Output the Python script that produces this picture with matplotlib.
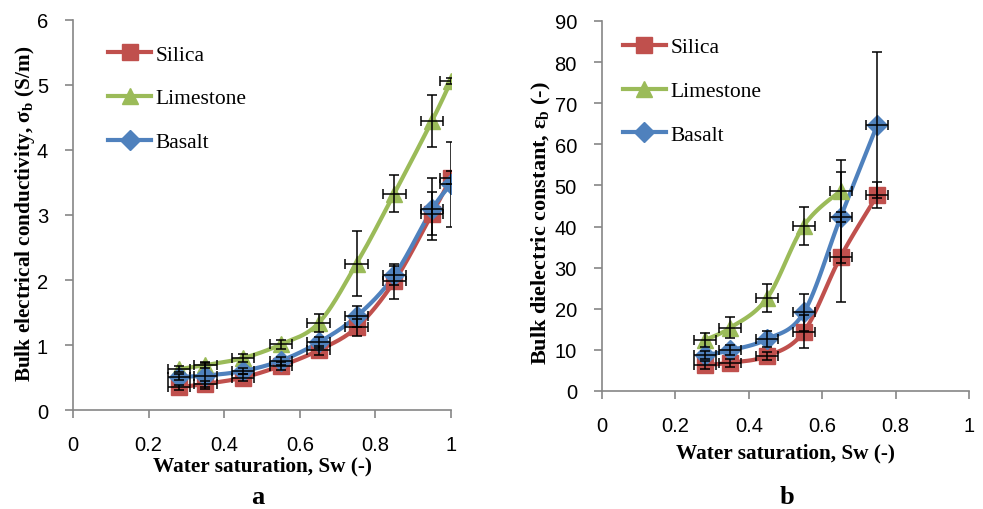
import numpy as np
import matplotlib
matplotlib.use('Agg')
import matplotlib.pyplot as plt
from matplotlib.ticker import FuncFormatter, MultipleLocator

# ---- data ----
sw_a = [0.28, 0.35, 0.45, 0.55, 0.65, 0.75, 0.85, 0.95, 1.0]
sigma_silica = [0.35, 0.40, 0.50, 0.68, 0.92, 1.27, 1.98, 3.02, 3.57]
sigma_limestone = [0.63, 0.69, 0.80, 1.01, 1.34, 2.25, 3.33, 4.45, 5.06]
sigma_basalt = [0.51, 0.53, 0.60, 0.76, 1.04, 1.44, 2.07, 3.09, 3.47]
sigma_err_silica = [0.04, 0.05, 0.05, 0.06, 0.07, 0.13, 0.27, 0.33, 0.10]
sigma_err_limestone = [0.05, 0.05, 0.06, 0.07, 0.14, 0.50, 0.29, 0.40, 0.05]
sigma_err_basalt = [0.05, 0.20, 0.05, 0.06, 0.08, 0.16, 0.15, 0.48, 0.65]
sw_err_a = [0.03, 0.03, 0.03, 0.03, 0.03, 0.03, 0.03, 0.03, 0.03]

sw_b = [0.28, 0.35, 0.45, 0.55, 0.65, 0.75]
sw_b_lime = [0.28, 0.35, 0.45, 0.55, 0.65]
eps_silica = [6.3, 6.9, 8.5, 14.4, 32.6, 47.6]
eps_limestone = [12.4, 15.4, 22.6, 40.2, 48.7]
eps_basalt = [8.7, 9.9, 12.6, 19.1, 42.2, 64.7]
eps_err_silica = [1.0, 1.0, 1.0, 4.0, 11.0, 3.2]
eps_err_limestone = [1.6, 2.5, 3.4, 4.6, 7.5]
eps_err_basalt = [1.0, 1.2, 2.0, 4.4, 11.0, 17.8]
sw_err_b = [0.03, 0.03, 0.03, 0.03, 0.03, 0.03]

names = ['Silica', 'Limestone', 'Basalt']
colors = {'Silica': '#C0504D', 'Limestone': '#9BBB59', 'Basalt': '#4F81BD'}
markers = {'Silica': ('s', 11), 'Limestone': ('^', 12), 'Basalt': ('D', 10)}

tick_font = 'Liberation Sans'
serif = 'Liberation Serif'

plt.rcParams['mathtext.fontset'] = 'custom'
plt.rcParams['mathtext.rm'] = serif
plt.rcParams['mathtext.bf'] = serif + ':bold'
plt.rcParams['mathtext.it'] = serif + ':italic'

fig = plt.figure(figsize=(9.83, 5.10), dpi=100)
ax1 = fig.add_axes([0.0743, 0.194, 0.3845, 0.765])
ax2 = fig.add_axes([0.6124, 0.2314, 0.3733, 0.7255])


def smooth_curve(ax, x, y, xlim, ylim):
    # Excel style smoothed line: cubic bezier segments, computed in pixel space
    bb = ax.get_position()
    w = bb.width * fig.get_figwidth() * fig.dpi
    h = bb.height * fig.get_figheight() * fig.dpi
    u = (np.asarray(x) - xlim[0]) / (xlim[1] - xlim[0]) * w
    v = (np.asarray(y) - ylim[0]) / (ylim[1] - ylim[0]) * h
    pts = np.column_stack([u, v])
    ext = np.vstack([pts[0], pts, pts[-1]])
    t = np.linspace(0, 1, 25)[:, None]
    out = []
    for i in range(len(pts) - 1):
        p0 = ext[i + 1]
        p3 = ext[i + 2]
        c1 = p0 + (ext[i + 2] - ext[i]) / 6.0
        c2 = p3 - (ext[i + 3] - ext[i + 1]) / 6.0
        seg = ((1 - t) ** 3) * p0 + 3 * ((1 - t) ** 2) * t * c1 + 3 * (1 - t) * t ** 2 * c2 + t ** 3 * p3
        out.append(seg if i == 0 else seg[1:])
    out = np.vstack(out)
    xs = out[:, 0] / w * (xlim[1] - xlim[0]) + xlim[0]
    ys = out[:, 1] / h * (ylim[1] - ylim[0]) + ylim[0]
    return xs, ys


def draw_panel(ax, series, xlim, ylim, ystep):
    ax.set_xlim(*xlim)
    ax.set_ylim(*ylim)
    for name, x, y, xe, ye in series:
        xs, ys = smooth_curve(ax, x, y, xlim, ylim)
        ax.plot(xs, ys, color=colors[name], lw=3, solid_capstyle='round', zorder=2)
        m, ms = markers[name]
        ax.plot(x, y, linestyle='none', marker=m, markersize=ms, color=colors[name],
                markeredgecolor=colors[name], zorder=3)
        ax.errorbar(x, y, yerr=ye, xerr=xe, fmt='none', ecolor='black', elinewidth=1.1,
                    capsize=3.5, capthick=1.1, zorder=4)
    # legend proxies
    for name in names:
        m, ms = markers[name]
        ax.plot([], [], color=colors[name], lw=3, marker=m, markersize=ms,
                markeredgecolor=colors[name], label=name)
    for s in ['top', 'right']:
        ax.spines[s].set_visible(False)
    for s in ['left', 'bottom']:
        ax.spines[s].set_color('#868686')
        ax.spines[s].set_linewidth(1.2)
    ax.xaxis.set_major_locator(MultipleLocator(0.2))
    ax.yaxis.set_major_locator(MultipleLocator(ystep))
    ax.xaxis.set_major_formatter(FuncFormatter(lambda v, p: '%g' % round(v, 2)))
    ax.tick_params(direction='out', length=6, width=1.2, color='#868686', pad=12,
                   labelsize=14.5)
    for lab in ax.get_xticklabels() + ax.get_yticklabels():
        lab.set_fontfamily(tick_font)


draw_panel(ax1, [
    ('Silica', sw_a, sigma_silica, sw_err_a, sigma_err_silica),
    ('Limestone', sw_a, sigma_limestone, sw_err_a, sigma_err_limestone),
    ('Basalt', sw_a, sigma_basalt, sw_err_a, sigma_err_basalt),
], (0, 1), (0, 6), 1)

draw_panel(ax2, [
    ('Silica', sw_b, eps_silica, sw_err_b, eps_err_silica),
    ('Limestone', sw_b_lime, eps_limestone, sw_err_b[:5], eps_err_limestone),
    ('Basalt', sw_b, eps_basalt, sw_err_b, eps_err_basalt),
], (0, 1), (0, 90), 10)

lab_font = dict(family=serif, weight='bold', size=15.3)
ax1.set_xlabel('Water saturation, Sw (-)', **lab_font)
ax1.set_ylabel(r'Bulk electrical conductivity, σ$_{\mathbf{b}}$ (S/m)', **lab_font)
ax2.set_xlabel('Water saturation, Sw (-)', **lab_font)
ax2.set_ylabel(r'Bulk dielectric constant, ε$_{\mathbf{b}}$ (-)', family=serif,
               weight='bold', size=16)
for ax, xl, yl in [(ax1, (0.5, -0.141), (-0.127, 0.505)), (ax2, (0.5, -0.165), (-0.164, 0.457))]:
    ax.xaxis.label.set_va('center')
    ax.yaxis.label.set_va('center')
    ax.xaxis.set_label_coords(*xl)
    ax.yaxis.set_label_coords(*yl)

for ax, anchor in [(ax1, (0.093, 0.937)), (ax2, (0.057, 0.956))]:
    ax.legend(loc='upper left', bbox_to_anchor=anchor, frameon=False, borderpad=0,
              borderaxespad=0, handlelength=2.0, handletextpad=0.2, labelspacing=1.1,
              prop=dict(family=serif, size=15.5))

fig.text(258 / 983, 1 - 504 / 510, 'a', ha='center', va='baseline', family=serif,
         weight='bold', size=19)
fig.text(787 / 983, 1 - 504 / 510, 'b', ha='center', va='baseline', family=serif,
         weight='bold', size=19)

fig.savefig('out.png', dpi=100)
